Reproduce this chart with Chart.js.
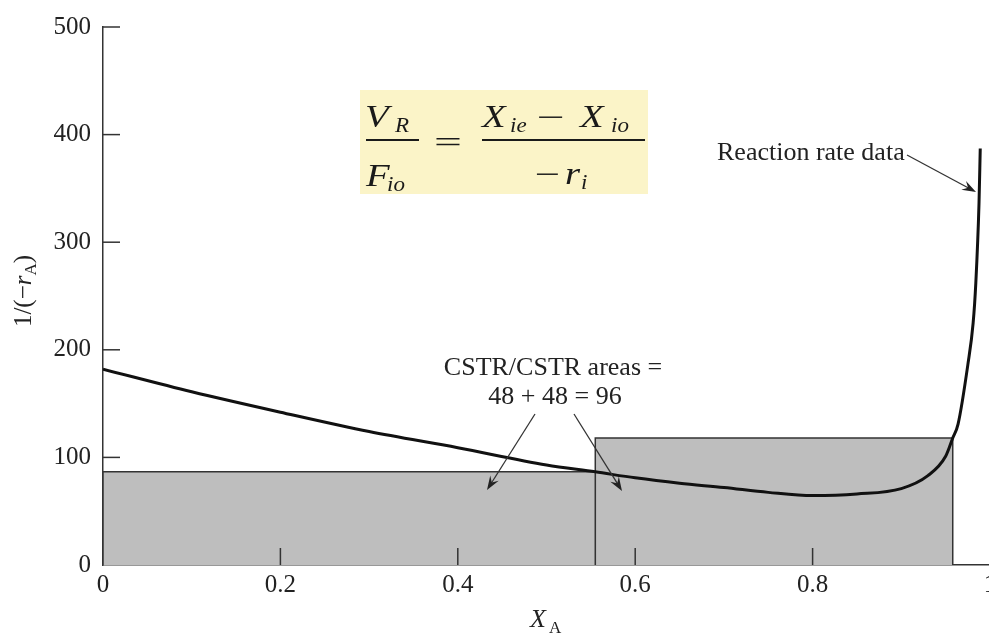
<!DOCTYPE html>
<html lang="en">
<head>
<meta charset="UTF-8">
<title>CSTR/CSTR areas</title>
<script src="https://cdn.jsdelivr.net/npm/chart.js"></script>
<style>
  body { margin: 0; overflow: hidden; background: #fff; }
  canvas { display: block; }
</style>
</head>
<body>
<canvas id="levenspiel" width="1002" height="634"></canvas>
<script>
// conversion X_A and 1/(-r_A)
const conversion = [0, 0.1, 0.2, 0.3, 0.4, 0.5, 0.555, 0.6, 0.65, 0.7, 0.75, 0.8, 0.85, 0.9, 0.93, 0.95, 0.958, 0.964, 0.975, 0.981, 0.984, 0.9876, 0.989];
const invRate    = [182, 161, 142, 124, 109, 93, 86.6, 81, 76, 72, 67.5, 64.5, 66, 71, 83, 101, 118, 131, 186, 225, 262, 336, 387];

// the two CSTRs: boundaries on X_A and rectangle heights
const cstrBounds = [0, 0.555, 0.958];
const cstrHeights = [86.6, 118];

const xTicks = [0, 0.2, 0.4, 0.6, 0.8, 1];
const yTicks = [0, 100, 200, 300, 400, 500];

const serif = '"Liberation Serif", "Times New Roman", serif';
Chart.defaults.font.family = serif;
Chart.defaults.font.size = 25;
Chart.defaults.color = '#222';

// draw text, optionally stretched horizontally
function txt(ctx, s, x, y, font, sx) {
    ctx.save();
    ctx.font = font;
    ctx.translate(x, y);
    ctx.scale(sx || 1, 1);
    ctx.fillText(s, 0, 0);
    ctx.restore();
}

function arrow(ctx, x1, y1, x2, y2) {
    const a = Math.atan2(y2 - y1, x2 - x1);
    const c = Math.cos(a), s = Math.sin(a);
    ctx.beginPath();
    ctx.moveTo(x1, y1);
    ctx.lineTo(x2 - 8 * c, y2 - 8 * s);
    ctx.stroke();
    ctx.beginPath();
    ctx.moveTo(x2, y2);
    ctx.lineTo(x2 - 14 * c + 5 * s, y2 - 14 * s - 5 * c);
    ctx.lineTo(x2 - 9 * c, y2 - 9 * s);
    ctx.lineTo(x2 - 14 * c - 5 * s, y2 - 14 * s + 5 * c);
    ctx.closePath();
    ctx.fill();
}

// tick marks pointing into the plot
const innerTicks = {
    id: 'innerTicks',
    afterDatasetsDraw(chart) {
        const ctx = chart.ctx;
        const xs = chart.scales.x, ys = chart.scales.y;
        const area = chart.chartArea;
        ctx.save();
        ctx.strokeStyle = '#333';
        ctx.lineWidth = 1.5;
        xs.ticks.forEach(t => {
            if (t.value === 0) return;
            const px = xs.getPixelForValue(t.value);
            ctx.beginPath();
            ctx.moveTo(px, area.bottom);
            ctx.lineTo(px, area.bottom - 17);
            ctx.stroke();
        });
        ys.ticks.forEach(t => {
            if (t.value === 0) return;
            const py = ys.getPixelForValue(t.value);
            ctx.beginPath();
            ctx.moveTo(area.left, py);
            ctx.lineTo(area.left + 17, py);
            ctx.stroke();
        });
        ctx.restore();
    }
};

// equation, labels, arrows and axis titles
const notes = {
    id: 'notes',
    afterDraw(chart) {
        const ctx = chart.ctx;
        const it = 'italic 31px ' + serif;
        const itSub = 'italic 20px ' + serif;
        const rg = '30px ' + serif;
        ctx.save();
        ctx.textBaseline = 'alphabetic';
        ctx.textAlign = 'left';

        // equation box
        ctx.fillStyle = '#fbf4c8';
        ctx.fillRect(360, 90, 288, 104);
        ctx.fillStyle = '#1a1a1a';
        ctx.strokeStyle = '#1a1a1a';
        ctx.lineWidth = 1.8;
        txt(ctx, 'V', 365, 127, it, 1.25);
        txt(ctx, 'R', 395, 132, itSub, 1.15);
        txt(ctx, 'F', 366, 186, it, 1.25);
        txt(ctx, 'io', 387, 191, itSub, 1.15);
        ctx.beginPath(); ctx.moveTo(366, 140); ctx.lineTo(419, 140); ctx.stroke();
        txt(ctx, '=', 434, 152, rg, 1.65);
        txt(ctx, 'X', 482, 127, it, 1.25);
        txt(ctx, 'ie', 510, 132, itSub, 1.15);
        txt(ctx, '\u2212', 537, 127, rg, 1.65);
        txt(ctx, 'X', 580, 127, it, 1.25);
        txt(ctx, 'io', 611, 132, itSub, 1.15);
        ctx.beginPath(); ctx.moveTo(482, 140); ctx.lineTo(645, 140); ctx.stroke();
        txt(ctx, '\u2212', 535, 184, rg, 1.5);
        txt(ctx, 'r', 565, 184, it, 1.25);
        txt(ctx, 'i', 581, 189, itSub, 1.15);

        // annotations
        ctx.fillStyle = '#222';
        ctx.strokeStyle = '#333';
        ctx.lineWidth = 1.3;
        ctx.font = '26px ' + serif;
        ctx.textBaseline = 'middle';
        ctx.fillText('Reaction rate data', 717, 153);
        arrow(ctx, 907, 155, 976, 192);
        ctx.textAlign = 'center';
        ctx.fillText('CSTR/CSTR areas =', 553, 368);
        ctx.fillText('48 + 48 = 96', 555, 397);
        arrow(ctx, 535, 414, 487, 490);
        arrow(ctx, 574, 414, 622, 491);

        // x title: X_A
        ctx.textAlign = 'left';
        ctx.textBaseline = 'alphabetic';
        txt(ctx, 'X', 530, 627, 'italic 26px ' + serif, 1);
        txt(ctx, 'A', 549, 633, '17px ' + serif, 1);

        // y title: 1/(-r_A), rotated
        ctx.save();
        ctx.translate(31, 291);
        ctx.rotate(-Math.PI / 2);
        const parts = [
            { s: '1/(\u2212', f: '25px ' + serif, dy: 0 },
            { s: 'r', f: 'italic 25px ' + serif, dy: 0 },
            { s: 'A', f: '17px ' + serif, dy: 5 },
            { s: ')', f: '25px ' + serif, dy: 0 }
        ];
        let w = 0;
        parts.forEach(p => { ctx.font = p.f; w += ctx.measureText(p.s).width; });
        let x = -w / 2;
        parts.forEach(p => {
            ctx.font = p.f;
            ctx.fillText(p.s, x, p.dy);
            x += ctx.measureText(p.s).width;
        });
        ctx.restore();

        ctx.restore();
    }
};

const curvePoints = conversion.map((x, i) => ({ x: x, y: invRate[i] }));

const cstrSets = cstrHeights.map((h, i) => ({
    label: 'CSTR ' + (i + 1),
    data: [
        { x: cstrBounds[i], y: 0 },
        { x: cstrBounds[i], y: h },
        { x: cstrBounds[i + 1], y: h },
        { x: cstrBounds[i + 1], y: 0 }
    ],
    showLine: true,
    fill: 'origin',
    backgroundColor: '#bebebe',
    borderColor: '#333',
    borderWidth: 1.5,
    pointRadius: 0,
    tension: 0,
    order: 2 + i
}));

const ctx = document.getElementById('levenspiel').getContext('2d');
new Chart(ctx, {
    type: 'scatter',
    data: {
        datasets: [{
            label: 'Reaction rate data',
            data: curvePoints,
            showLine: true,
            fill: false,
            borderColor: '#111',
            borderWidth: 3,
            pointRadius: 0,
            cubicInterpolationMode: 'monotone',
            order: 1
        }].concat(cstrSets)
    },
    options: {
        responsive: false,
        animation: false,
        layout: { padding: { left: 0, top: 22, right: 12, bottom: 0 } },
        plugins: {
            legend: { display: false },
            tooltip: { enabled: false }
        },
        scales: {
            x: {
                type: 'linear',
                min: 0,
                max: 1,
                afterBuildTicks: s => { s.ticks = xTicks.map(v => ({ value: v })); },
                afterFit: s => { s.height = 69; },
                ticks: { padding: 5, maxRotation: 0, autoSkip: false, callback: v => String(v) },
                grid: { display: false, drawTicks: false },
                border: { color: '#333', width: 1.5 }
            },
            y: {
                min: 0,
                max: 500,
                afterBuildTicks: s => { s.ticks = yTicks.map(v => ({ value: v })); },
                afterFit: s => { s.width = 103; },
                ticks: { padding: 12, callback: v => String(v) },
                grid: { display: false, drawTicks: false },
                border: { color: '#333', width: 1.5 }
            }
        }
    },
    plugins: [innerTicks, notes]
});
</script>
</body>
</html>
